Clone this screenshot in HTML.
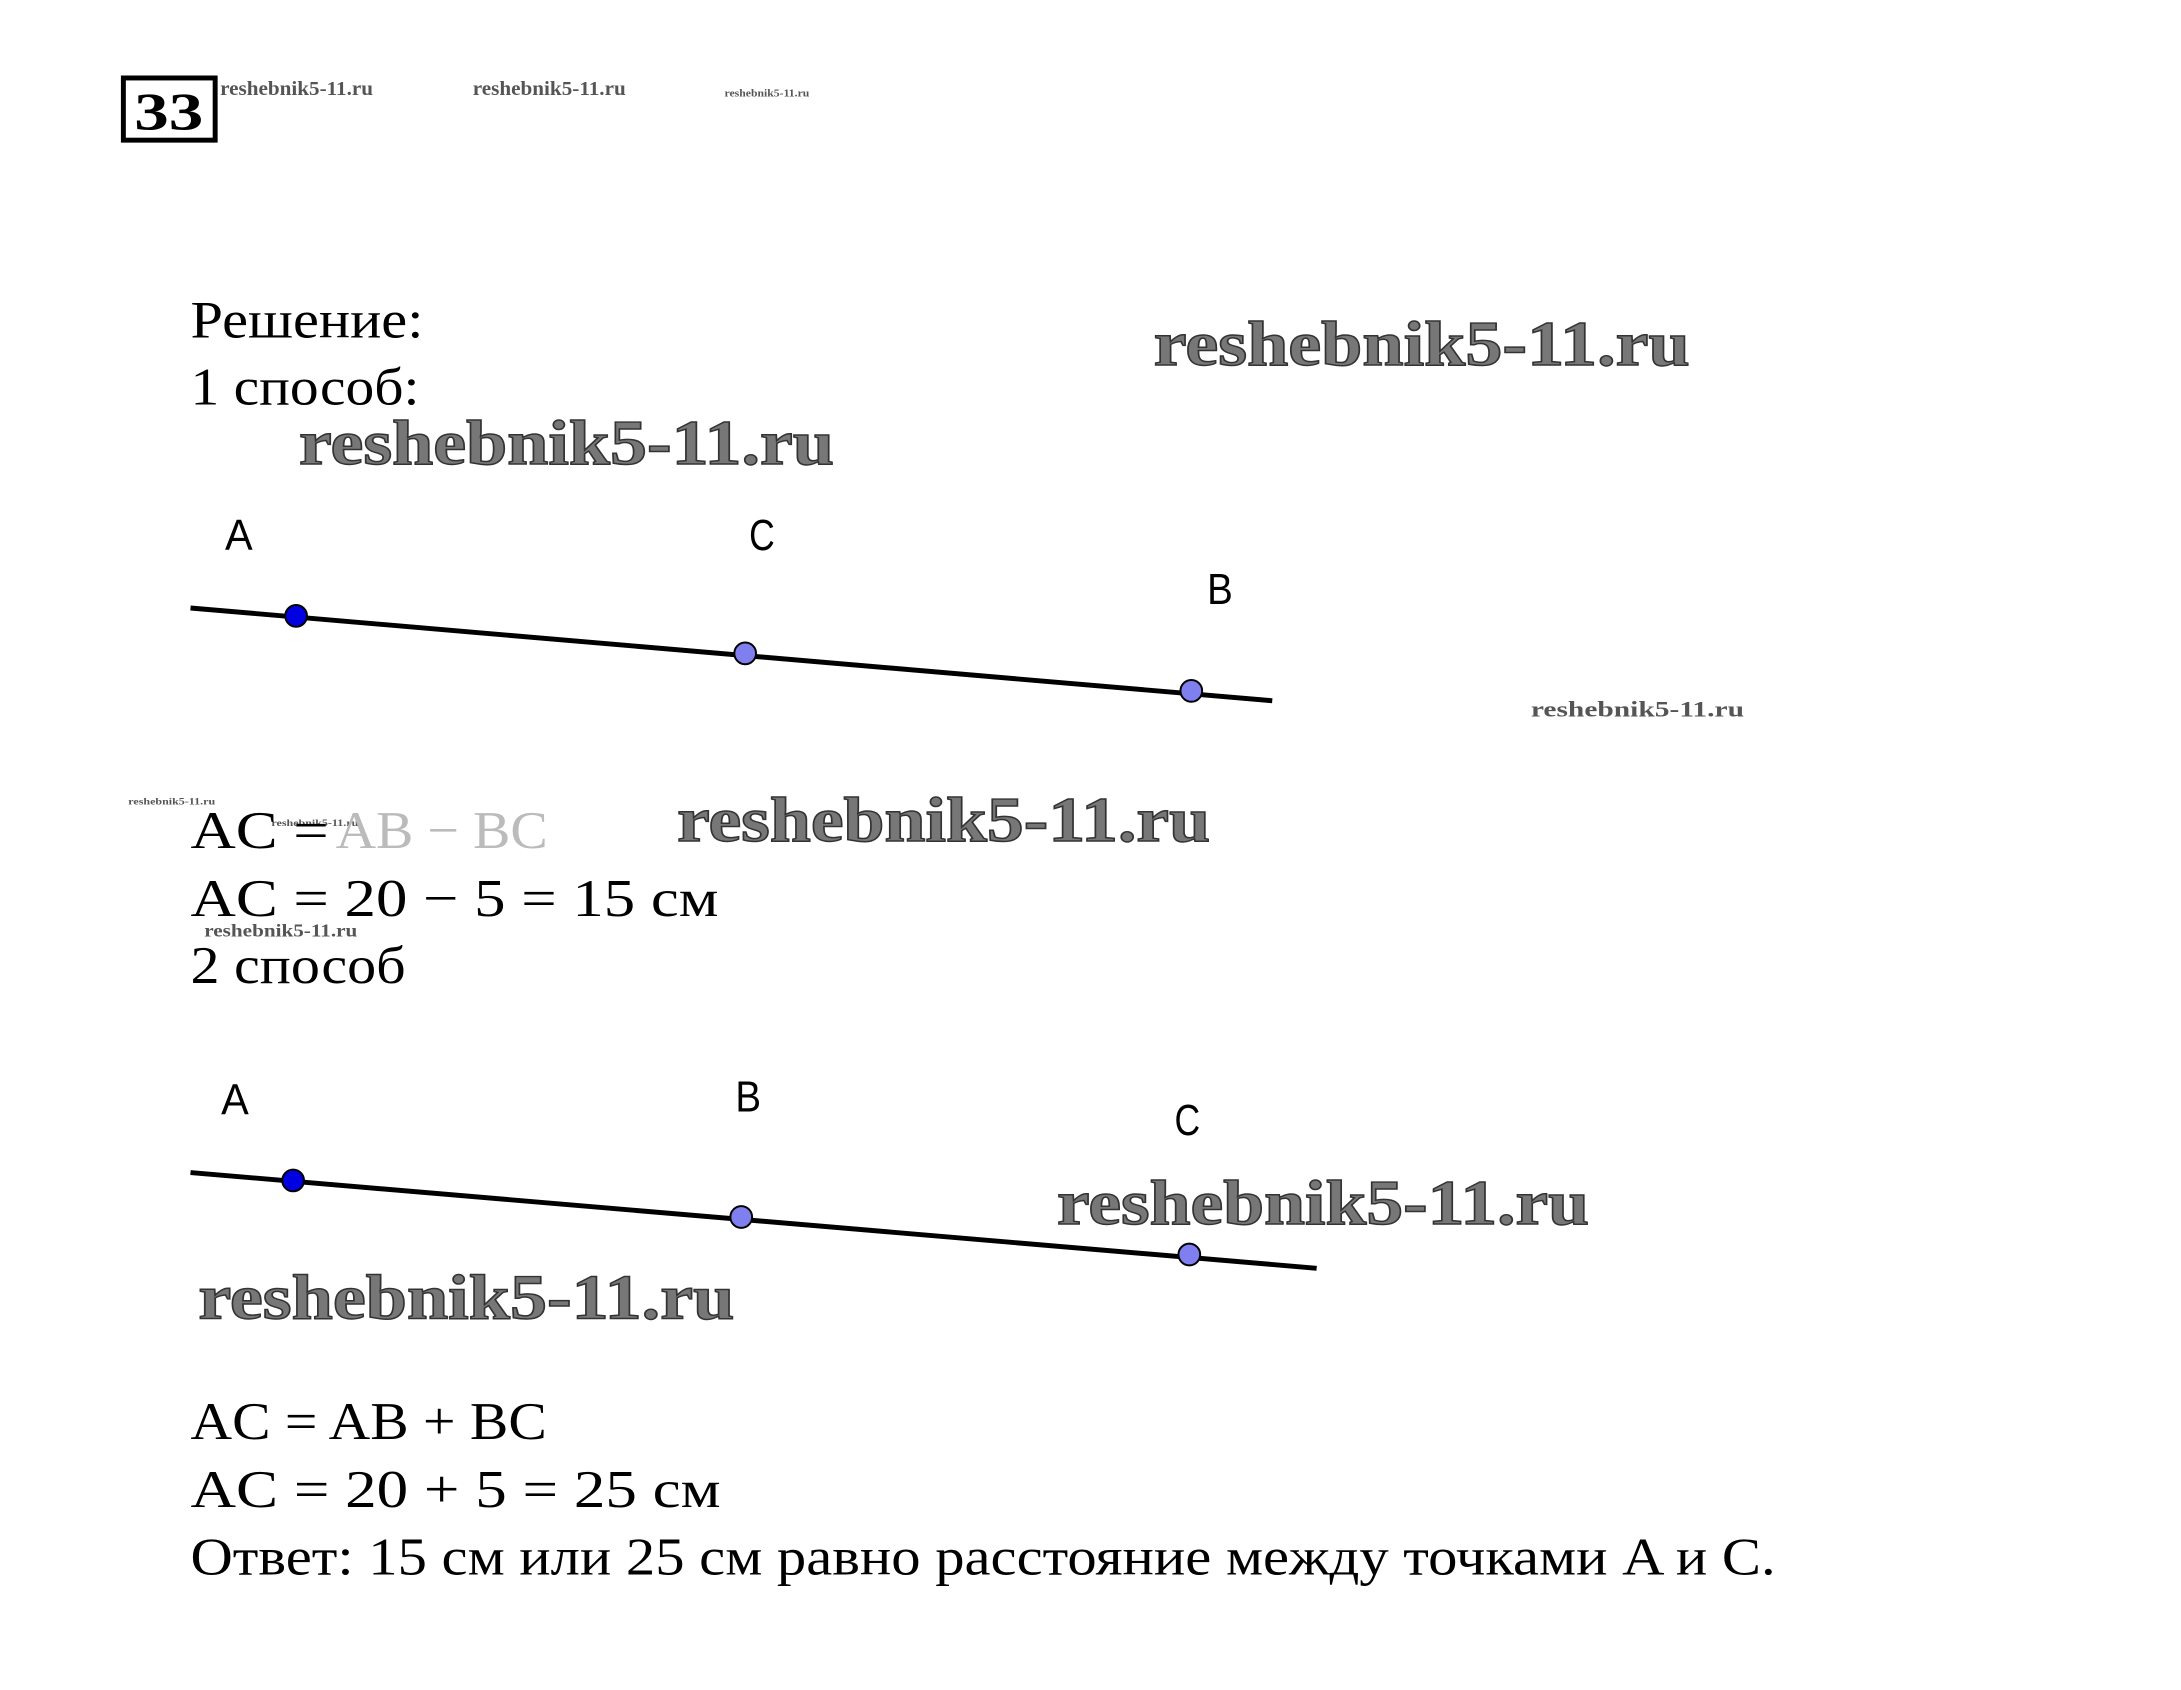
<!DOCTYPE html>
<html><head><meta charset="utf-8"><style>html,body{margin:0;padding:0;background:#fff}svg{display:block}</style></head>
<body>
<svg width="2181" height="1690" viewBox="0 0 2181 1690" xmlns="http://www.w3.org/2000/svg">
<rect width="2181" height="1690" fill="#fff"/>
<g transform="scale(0.987)">
<rect x="125" y="79" width="93" height="63" fill="none" stroke="#000" stroke-width="5"/>
<text x="171" y="131" font-family="Liberation Serif, serif" font-weight="bold" font-size="54" text-anchor="middle" textLength="70" lengthAdjust="spacingAndGlyphs">33</text>
<g font-family="Liberation Serif, serif" font-weight="bold" fill="#555">
<text x="223" y="96" font-size="20" textLength="155" lengthAdjust="spacingAndGlyphs">reshebnik5-11.ru</text>
<text x="479" y="96" font-size="20" textLength="155" lengthAdjust="spacingAndGlyphs">reshebnik5-11.ru</text>
<text x="734" y="98" font-size="11" textLength="86" lengthAdjust="spacingAndGlyphs">reshebnik5-11.ru</text>
<text x="130" y="815" font-size="10" textLength="88" lengthAdjust="spacingAndGlyphs">reshebnik5-11.ru</text>
<text x="275" y="837" font-size="10" textLength="88" lengthAdjust="spacingAndGlyphs">reshebnik5-11.ru</text>
<text x="207" y="949" font-size="18" textLength="155" lengthAdjust="spacingAndGlyphs">reshebnik5-11.ru</text>
<text x="1551" y="726" font-size="22" textLength="216" lengthAdjust="spacingAndGlyphs">reshebnik5-11.ru</text>
</g>
<g font-family="Liberation Serif, serif" font-weight="bold" fill="#777" stroke="#333" stroke-width="1.5">
<text x="1169" y="370" font-size="64" textLength="543" lengthAdjust="spacingAndGlyphs">reshebnik5-11.ru</text>
<text x="303" y="470" font-size="64" textLength="542" lengthAdjust="spacingAndGlyphs">reshebnik5-11.ru</text>
<text x="686" y="852" font-size="64" textLength="540" lengthAdjust="spacingAndGlyphs">reshebnik5-11.ru</text>
<text x="1071" y="1240" font-size="64" textLength="539" lengthAdjust="spacingAndGlyphs">reshebnik5-11.ru</text>
<text x="201" y="1336" font-size="64" textLength="543" lengthAdjust="spacingAndGlyphs">reshebnik5-11.ru</text>
</g>
<g font-family="Liberation Serif, serif" font-size="54" fill="#000">
<text x="193" y="342" textLength="236" lengthAdjust="spacingAndGlyphs">Решение:</text>
<text x="193" y="410" textLength="232" lengthAdjust="spacingAndGlyphs">1 способ:</text>
<text x="193" y="859" textLength="140" lengthAdjust="spacingAndGlyphs">AC =</text>
<text x="340" y="859" fill="#bbb" textLength="215" lengthAdjust="spacingAndGlyphs">AB − BC</text>
<text x="193" y="928" textLength="535" lengthAdjust="spacingAndGlyphs">AC = 20 − 5 = 15 см</text>
<text x="193" y="996" textLength="218" lengthAdjust="spacingAndGlyphs">2 способ</text>
<text x="193" y="1458" textLength="361" lengthAdjust="spacingAndGlyphs">AC = AB + BC</text>
<text x="193" y="1527" textLength="537" lengthAdjust="spacingAndGlyphs">AC = 20 + 5 = 25 см</text>
<text x="193" y="1595" textLength="1606" lengthAdjust="spacingAndGlyphs">Ответ: 15 см или 25 см равно расстояние между точками A и C.</text>
</g>
<g stroke="#000" stroke-width="5">
<line x1="193" y1="616" x2="1289" y2="710"/>
<line x1="193" y1="1188" x2="1334" y2="1285"/>
</g>
<g stroke="#000" stroke-width="2">
<circle cx="300" cy="624" r="11" fill="#0000e0"/>
<circle cx="755" cy="662" r="11" fill="#7f7ff0"/>
<circle cx="1207" cy="700" r="11" fill="#7f7ff0"/>
<circle cx="297" cy="1196" r="11" fill="#0000e0"/>
<circle cx="751" cy="1233" r="11" fill="#7f7ff0"/>
<circle cx="1205" cy="1271" r="11" fill="#7f7ff0"/>
</g>
<g font-family="Liberation Sans, sans-serif" font-size="44" fill="#000" text-anchor="middle">
<text x="242" y="557" textLength="28" lengthAdjust="spacingAndGlyphs">A</text>
<text x="772" y="557" textLength="26" lengthAdjust="spacingAndGlyphs">C</text>
<text x="1236" y="612" textLength="26" lengthAdjust="spacingAndGlyphs">B</text>
<text x="238" y="1129" textLength="28" lengthAdjust="spacingAndGlyphs">A</text>
<text x="758" y="1126" textLength="26" lengthAdjust="spacingAndGlyphs">B</text>
<text x="1203" y="1150" textLength="26" lengthAdjust="spacingAndGlyphs">C</text>
</g>
</g>
</svg>
</body></html>
